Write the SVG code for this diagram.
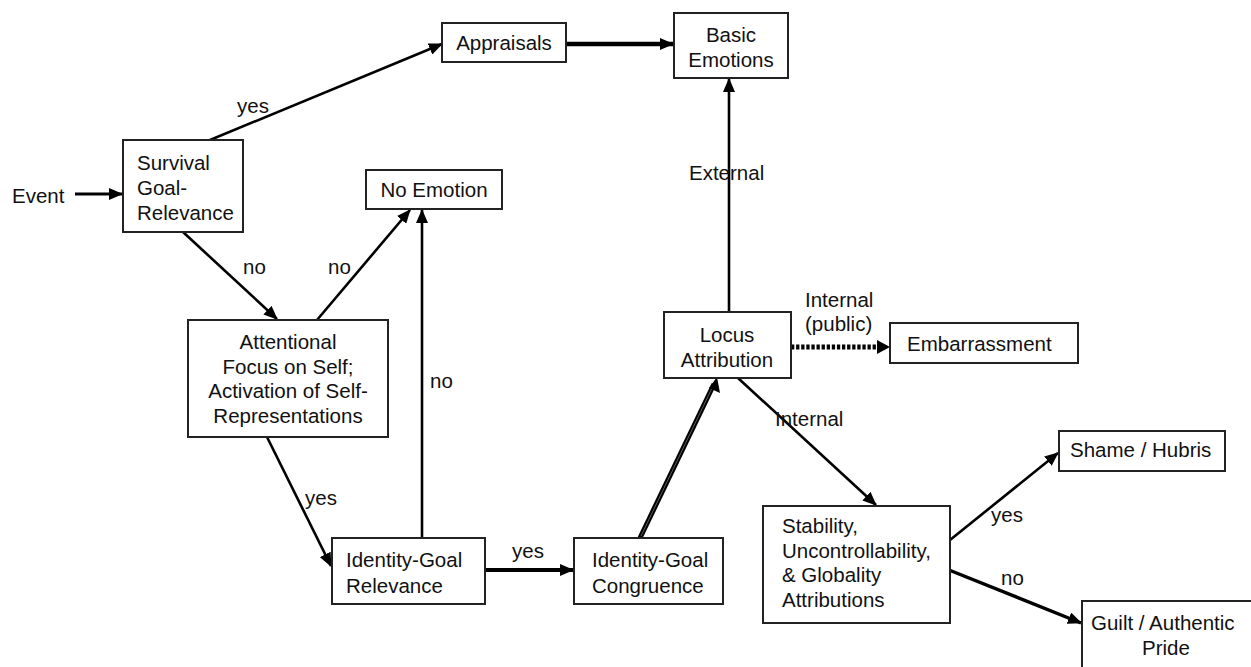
<svg xmlns="http://www.w3.org/2000/svg" width="1251" height="667" viewBox="0 0 1251 667">
<style>
text{font-family:"Liberation Sans",Arial,sans-serif;font-size:20.5px;fill:#111}
.box{fill:#fff;stroke:#222;stroke-width:2}
.ln{fill:none;stroke:#000;stroke-width:2.6}
.c{text-anchor:middle}
</style>
<defs>
<marker id="ah" markerUnits="userSpaceOnUse" markerWidth="14" markerHeight="12" refX="13" refY="6" orient="auto">
<path d="M0,0 L14,6 L0,12 Z" fill="#000"/>
</marker>
</defs>
<rect width="1251" height="667" fill="#fff"/>
<g id="connectors">
<line class="ln" x1="75" y1="194" x2="122" y2="194" style="stroke-width:3.2" marker-end="url(#ah)"/>
<line class="ln" x1="210" y1="140" x2="442" y2="44" marker-end="url(#ah)"/>
<line class="ln" x1="566" y1="44" x2="673" y2="44" style="stroke-width:4.5" marker-end="url(#ah)"/>
<line class="ln" x1="729" y1="312" x2="729" y2="79" marker-end="url(#ah)"/>
<line class="ln" x1="183" y1="232" x2="277" y2="319" marker-end="url(#ah)"/>
<line class="ln" x1="317" y1="320" x2="410" y2="210" marker-end="url(#ah)"/>
<line class="ln" x1="422" y1="538" x2="422" y2="210" marker-end="url(#ah)"/>
<line class="ln" x1="267" y1="437" x2="331" y2="566" marker-end="url(#ah)"/>
<line class="ln" x1="485" y1="570" x2="573" y2="570" style="stroke-width:4.2" marker-end="url(#ah)"/>
<line x1="640" y1="538" x2="714" y2="384" stroke="#000" stroke-width="5"/>
<line x1="641" y1="536" x2="713" y2="386" stroke="#777" stroke-width="0.8"/>
<path d="M717,377 L720,393 L709,388 Z" fill="#000"/>
<line x1="791" y1="347" x2="878" y2="347" stroke="#000" stroke-width="5" stroke-dasharray="3.3,1.8"/>
<path d="M877,340 L890,347 L877,354 Z" fill="#000"/>
<line class="ln" x1="738" y1="378" x2="876" y2="505" marker-end="url(#ah)"/>
<line class="ln" x1="950" y1="540" x2="1058" y2="453" marker-end="url(#ah)"/>
<line class="ln" x1="949" y1="570" x2="1081" y2="623" style="stroke-width:3.4" marker-end="url(#ah)"/>
</g>
<g id="labels">
<text x="237" y="113">yes</text>
<text x="689" y="180">External</text>
<text x="243" y="274">no</text>
<text x="328" y="274">no</text>
<text x="430" y="388">no</text>
<text x="305" y="505">yes</text>
<text x="512" y="558">yes</text>
<text x="805" y="307">Internal</text>
<text x="805" y="331">(public)</text>
<text x="775" y="426">Internal</text>
<text x="991" y="522">yes</text>
<text x="1001" y="585">no</text>
</g>
<g id="event"><text x="12" y="203">Event</text></g>
<g id="survival">
<rect class="box" x="123" y="140" width="120" height="92"/>
<text x="137" y="170">Survival</text>
<text x="137" y="195">Goal-</text>
<text x="137" y="220">Relevance</text>
</g>
<g id="appraisals">
<rect class="box" x="442" y="23" width="124" height="39"/>
<text class="c" x="504" y="50">Appraisals</text>
</g>
<g id="basic">
<rect class="box" x="674" y="13" width="114" height="65"/>
<text class="c" x="731" y="42">Basic</text>
<text class="c" x="731" y="67">Emotions</text>
</g>
<g id="noemotion">
<rect class="box" x="366" y="170" width="136" height="39"/>
<text class="c" x="434" y="197">No Emotion</text>
</g>
<g id="attentional">
<rect class="box" x="188" y="320" width="200" height="117"/>
<text class="c" x="288" y="349">Attentional</text>
<text class="c" x="288" y="374">Focus on Self;</text>
<text class="c" x="288" y="398">Activation of Self-</text>
<text class="c" x="288" y="423">Representations</text>
</g>
<g id="relevance">
<rect class="box" x="332" y="538" width="153" height="66"/>
<text x="346" y="567">Identity-Goal</text>
<text x="346" y="593">Relevance</text>
</g>
<g id="congruence">
<rect class="box" x="574" y="538" width="149" height="66"/>
<text x="592" y="567">Identity-Goal</text>
<text x="592" y="593">Congruence</text>
</g>
<g id="locus">
<rect class="box" x="664" y="312" width="127" height="66"/>
<text class="c" x="727" y="342">Locus</text>
<text class="c" x="727" y="367">Attribution</text>
</g>
<g id="embarrassment">
<rect class="box" x="890" y="323" width="188" height="40"/>
<text x="907" y="351">Embarrassment</text>
</g>
<g id="stability">
<rect class="box" x="763" y="506" width="187" height="117"/>
<text x="782" y="533">Stability,</text>
<text x="782" y="558">Uncontrollability,</text>
<text x="782" y="582">&amp; Globality</text>
<text x="782" y="607">Attributions</text>
</g>
<g id="shame">
<rect class="box" x="1059" y="431" width="166" height="40"/>
<text x="1070" y="457">Shame / Hubris</text>
</g>
<g id="guilt">
<rect class="box" x="1082" y="601" width="180" height="80"/>
<text x="1091" y="630">Guilt / Authentic</text>
<text class="c" x="1166" y="655">Pride</text>
</g>
</svg>
